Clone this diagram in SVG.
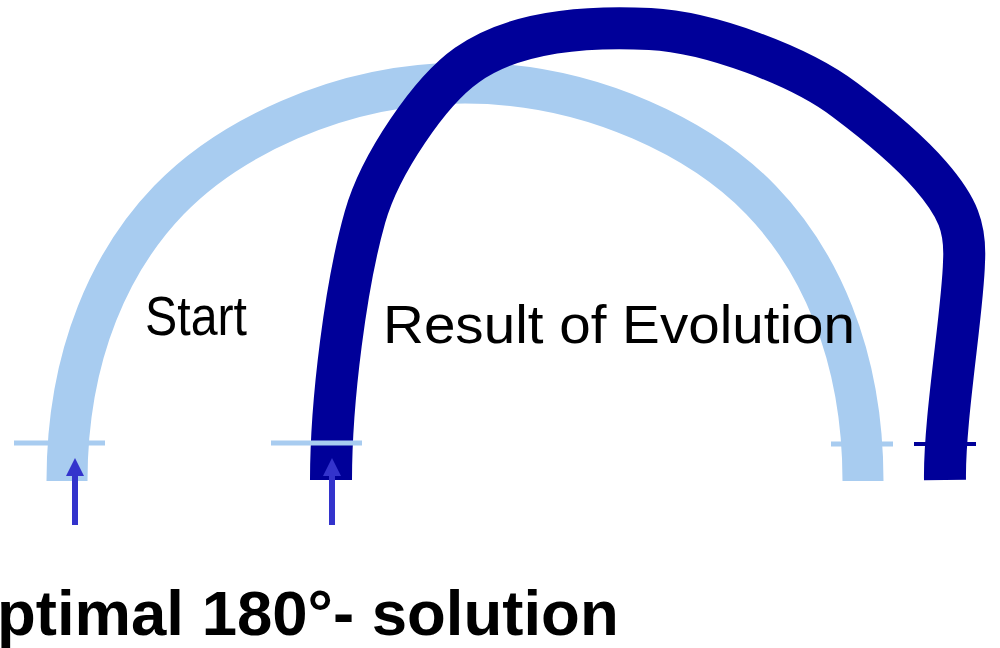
<svg xmlns="http://www.w3.org/2000/svg" width="1000" height="648" viewBox="0 0 1000 648">
<style>
.light{fill:none;stroke:#A8CCF0;stroke-width:41;stroke-linecap:butt}
.dark{fill:none;stroke:#000099;stroke-width:42;stroke-linecap:butt;stroke-linejoin:round}
.tickL{stroke:#A8CCF0;stroke-width:5}
.tickD{stroke:#000099;stroke-width:4}
.arrow{stroke:#3333CC;stroke-width:6}
.head{fill:#3333CC}
.lbl{font-family:"Liberation Sans",Arial,sans-serif;fill:#000}
.title{font-family:"Liberation Sans",Arial,sans-serif;font-weight:bold;fill:#000}
</style>
<rect width="1000" height="648" fill="#fff"/>
<g id="start-arch">
<path class="light" d="M67,481 C67,351 113,258 169,200 C225,142 335,83 465,83 C595,83 705,142 761,200 C817,258 863,351 863,481"/>
</g>
<g id="ticks-behind">
<line class="tickL" x1="14" y1="443" x2="105" y2="443"/>
<line class="tickL" x1="831" y1="444" x2="893" y2="444"/>
<line class="tickD" x1="914" y1="444" x2="976" y2="444"/>
</g>
<g id="result-arch">
<path class="dark" d="M331,480 C331,400 346,284 365,217 C380,164 430,91 467,65 C516,30 590,26 650,29 C710,32 800,66 845,100 C885,130 910,152 930,175 C958,207 966,228 964,262 C963,310 944,420 945,480"/>
</g>
<g id="connectors">
<line class="tickL" x1="271" y1="443" x2="362" y2="443"/>
<line class="arrow" x1="75" y1="525" x2="75" y2="474"/>
<polygon class="head" points="75,458 84,476 66,476"/>
<line class="arrow" x1="332" y1="525" x2="332" y2="474"/>
<polygon class="head" points="332,458 341,476 323,476"/>
</g>
<g id="label-start">
<text class="lbl" x="145" y="335" font-size="56" textLength="102" lengthAdjust="spacingAndGlyphs">Start</text>
</g>
<g id="label-result">
<text class="lbl" x="383" y="343" font-size="54" textLength="472" lengthAdjust="spacingAndGlyphs">Result of Evolution</text>
</g>
<g id="title">
<text class="title" x="-3" y="635" font-size="63.5">ptimal 180°- solution</text>
</g>
</svg>
